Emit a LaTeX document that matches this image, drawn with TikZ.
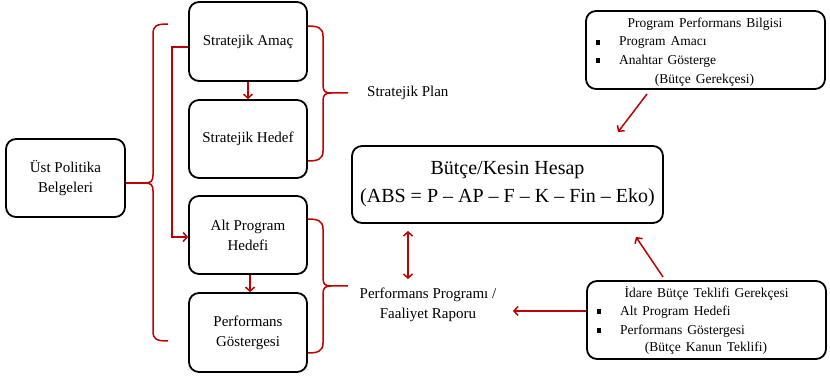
\documentclass[tikz,border=0pt]{standalone}
\usepackage{fontspec}
\setmainfont{Liberation Serif}
\usetikzlibrary{arrows.meta}
\definecolor{linkred}{RGB}{192,0,0}
\newcommand\widewords{\spaceskip=5pt\relax}
\begin{document}
\begin{tikzpicture}[x=1pt,y=-1pt,
  box/.style={draw=black, line width=1.8pt, rounded corners=10pt, align=center, inner sep=0pt},
  redline/.style={draw=linkred, line width=1.5pt},
  arr/.style={redline, -{Straight Barb[length=4pt,width=9pt,line width=1.5pt]}},
  darr/.style={redline, {Straight Barb[length=4pt,width=9pt,line width=1.5pt]}-{Straight Barb[length=4pt,width=9pt,line width=1.5pt]}},
  lbl/.style={font=\fontsize{15}{20}\selectfont, align=center, inner sep=0pt},
  big/.style={font=\fontsize{20}{28}\selectfont},
  small/.style={font=\fontsize{13.5}{18}\selectfont\widewords, inner sep=0pt},
  bullet/.style={fill=black, minimum width=4pt, minimum height=5pt, inner sep=0pt}]

\useasboundingbox (0,0) rectangle (830,379);

% left column of boxes
\node[box, lbl, minimum width=119pt, minimum height=78pt] (ust) at (65.5,178) {Üst Politika\\Belgeleri};
\node[box, lbl, minimum width=118pt, minimum height=79pt] (amac) at (248,41.5) {Stratejik Amaç};
\node[box, lbl, minimum width=118pt, minimum height=78pt] (hedef) at (248,139) {Stratejik Hedef};
\node[box, lbl, minimum width=118pt, minimum height=78pt] (altp) at (248,235) {Alt Program\\Hedefi};
\node[box, lbl, minimum width=118pt, minimum height=79pt] (perf) at (248,332.5) {Performans\\Göstergesi};

% central budget box
\node[box, big, minimum width=311pt, minimum height=77pt] (butce) at (507.5,184.5) {Bütçe/Kesin Hesap\\(ABS = P – AP – F – K – Fin – Eko)};

% side labels
\node[lbl, anchor=west] (splan) at (367,93) {Stratejik Plan};
\node[lbl] (pprog) at (428,305) {Performans Programı /\\Faaliyet Raporu};

% program performance information box
\node[box, minimum width=239pt, minimum height=78pt] (ppb) at (705.5,50) {};
\node[small] (ppbt) at (705,24) {Program Performans Bilgisi};
\node[bullet] (ppbb1) at (598,43) {};
\node[small, anchor=west] (ppbl1) at (619,43) {Program Amacı};
\node[bullet] (ppbb2) at (598,61) {};
\node[small, anchor=west] (ppbl2) at (619,61) {Anahtar Gösterge};
\node[small] (ppbg) at (704.5,80) {(Bütçe Gerekçesi)};

% administration budget proposal box
\node[box, minimum width=239pt, minimum height=78pt] (idare) at (706.5,320) {};
\node[small] (idaret) at (706.5,293) {İdare Bütçe Teklifi Gerekçesi};
\node[bullet] (idareb1) at (599,312) {};
\node[small, anchor=west] (idarel1) at (620,312) {Alt Program Hedefi};
\node[bullet] (idareb2) at (599,331) {};
\node[small, anchor=west] (idarel2) at (620,331) {Performans Göstergesi};
\node[small] (idarek) at (706,348) {(Bütçe Kanun Teklifi)};

% braces
\coordinate (lbtip) at (145,183);
\draw[redline] (168,24) .. controls (156,24) and (153,26) .. (153,34) -- (153,175)
  .. controls (153,181) and (151,183) .. (lbtip)
  .. controls (151,183) and (153,185) .. (153,191) -- (153,331)
  .. controls (153,339) and (156,341) .. (168,341);
\draw[redline] (ust.east |- lbtip) -- (lbtip);

\draw[redline] (amac.east |- 0,26) .. controls (318,26) and (323,28) .. (323,36) -- (323,85)
  .. controls (323,91) and (325,93) .. (331,93) -- (348,93)
  (331,93) .. controls (325,93) and (323,95) .. (323,101) -- (323,151)
  .. controls (323,159) and (318,161) .. (hedef.east |- 0,161);

\draw[redline] (altp.east |- 0,219) .. controls (318,219) and (323,221) .. (323,229) -- (323,278)
  .. controls (323,284) and (325,286) .. (331,286) -- (348,286)
  (331,286) .. controls (325,286) and (323,288) .. (323,294) -- (323,343)
  .. controls (323,351) and (318,353) .. (perf.east |- 0,353);

% arrows between boxes
\draw[arr] (amac.south) -- (hedef.north);
\draw[arr] ([xshift=2pt]altp.south) -- ([xshift=2pt]perf.north);
\draw[arr] ([yshift=-5.5pt]amac.west) -- ++(-16,0) |- ([yshift=-2pt]altp.west);

\coordinate (dtop) at (408,231);
\coordinate (dbot) at (408,279);
\draw[darr] (dtop) -- (dbot);

\coordinate (ppbout) at (647,94);
\coordinate (ppbin) at (618,132);
\draw[arr] (ppbout) -- (ppbin);

\coordinate (idareout) at (663,277);
\coordinate (idarein) at (636,237);
\draw[arr] (idareout) -- (idarein);

\coordinate (pprogin) at (513,311);
\draw[arr] ([yshift=9pt]idare.west) -- (pprogin);

\end{tikzpicture}
\end{document}
